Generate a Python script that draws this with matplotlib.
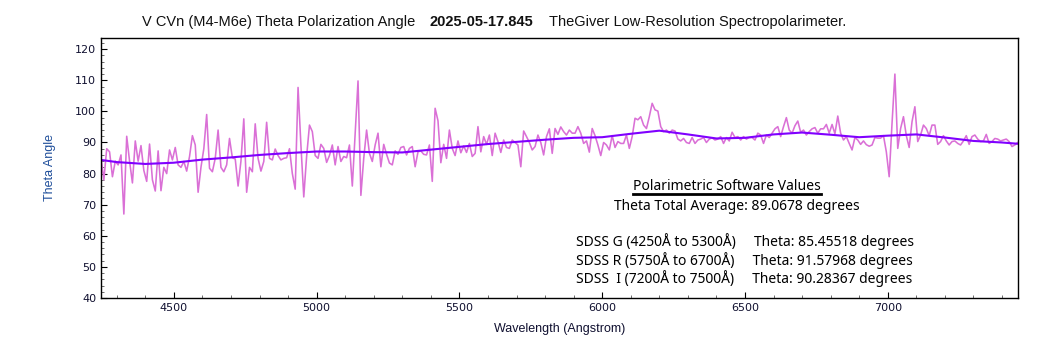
import numpy as np
import matplotlib
matplotlib.use("Agg")
import matplotlib.pyplot as plt
from matplotlib.ticker import MultipleLocator
from matplotlib.lines import Line2D

# ---------------- data ----------------
wl_start = 4245.0
wl_step = 10.0
theta = [
    85, 78, 88, 87, 79, 84, 82.8, 86, 67, 92,
    84, 77, 90.5, 84, 89, 81, 77.5, 89.5, 78, 74.4,
    87.3, 74.5, 82, 80, 87.6, 84.4, 88.4, 82.8, 82, 83.9,
    80.8, 85.5, 92.2, 89.2, 74, 82, 88, 99, 81.7, 80.6,
    84.9, 94, 82, 80.6, 82.8, 91.3, 85.1, 84.7, 76, 84,
    97.6, 74, 82, 80.6, 96, 84.9, 80.8, 83.9, 96.5, 84.9,
    84.4, 87.9, 85.8, 84.4, 84.9, 85.1, 88, 80, 75, 107.7,
    89.2, 72.5, 85.5, 95.6, 93.5, 85.8, 84.9, 89.4, 88.1, 83.6,
    85.8, 89.2, 82.8, 88.7, 83.9, 85.5, 85.1, 89.2, 76, 93,
    109.8, 73, 84.9, 94, 86.5, 83.9, 89.2, 93, 82.2, 89.4,
    86.2, 83.4, 82.8, 87.3, 86.2, 88.4, 88.7, 86, 88.1, 88.7,
    82.2, 87, 87.3, 86.2, 86, 89.2, 77.5, 101, 97, 83.5,
    89.4, 84.9, 94, 88.1, 85.8, 90.5, 86.7, 88.9, 86.8, 89.7,
    85.5, 86.5, 95.1, 87, 91.9, 89.4, 92.4, 85.8, 93, 90.3,
    86.8, 90.8, 88.4, 88.1, 90.8, 90, 89.2, 82.2, 93.7, 91.9,
    90, 87.6, 88.7, 92.4, 90, 86, 91.9, 94.4, 86.5, 94.5,
    92.6, 95, 93.5, 92.4, 94, 93, 93, 95.1, 93, 89.7,
    90.5, 86.9, 94.5, 92.2, 89.2, 85.8, 90, 89.2, 87.6, 92.2,
    88.4, 90.3, 89.7, 89.7, 92.4, 88.1, 91.9, 97.8, 97.3, 98.3,
    95.6, 94.5, 98.3, 102.6, 100.5, 100.1, 95.1, 93.5, 94, 93,
    94, 93.7, 91.1, 90.5, 91.3, 90, 89.7, 91.6, 89.7, 90.8,
    91.1, 91.6, 90, 91.1, 91.5, 90.8, 91.1, 91.9, 89.7, 91.6,
    90.5, 93.3, 91.6, 91.9, 90.8, 91.9, 91.1, 91.6, 91.6, 90.8,
    93, 92.4, 89.7, 92.4, 91.6, 93, 94.4, 95.1, 91.9, 95.1,
    98, 94, 93, 95.4, 96.9, 93.3, 94, 92.4, 93.5, 94.4,
    94.8, 93, 94.4, 94.4, 95.8, 93, 95.8, 92.8, 98.5, 93,
    90.8, 91.9, 89.7, 87.6, 91.6, 90.8, 89.4, 90.5, 89.3, 88.8,
    89.2, 91.6, 91.4, 91.4, 92.2, 87, 79, 96.2, 112, 88.1,
    94.5, 98.3, 92.2, 88.4, 96.7, 101.5, 90.3, 92.4, 95.6, 94.5,
    92.2, 95.6, 95.6, 89.4, 90.3, 92.2, 90.5, 89.2, 90.3, 90.5,
    89.7, 89.2, 90.5, 92.2, 89.4, 91.9, 92.4, 91.1, 90.3, 90.5,
    92.6, 89.7, 90.3, 91.3, 91.1, 90.5, 90.8, 91.1, 90.3, 88.7,
    89.2, 90,
]
wavelength = wl_start + wl_step * np.arange(len(theta))

fit_wl = [4245, 4300, 4400, 4500, 4600, 4700, 4800, 4900, 5000, 5100,
          5200, 5300, 5400, 5500, 5600, 5700, 5800, 5900, 6000, 6100,
          6200, 6300, 6400, 6500, 6600, 6700, 6800, 6900, 7000, 7100,
          7200, 7300, 7400, 7455]
fit_theta = [84.4, 83.7, 83.1, 83.5, 84.5, 85.2, 86.0, 86.6, 87.1, 87.1,
             86.9, 86.8, 87.7, 88.6, 89.5, 90.2, 90.9, 91.5, 91.7, 92.8,
             93.8, 92.6, 91.3, 91.5, 92.6, 93.2, 92.5, 91.7, 92.2, 92.6,
             91.6, 90.5, 90.0, 89.6]

title_main = "V CVn (M4-M6e) Theta Polarization Angle"
title_date = "2025-05-17.845"
title_inst = "TheGiver Low-Resolution Spectropolarimeter."
box_head = "Polarimetric Software Values"
box_total = "Theta Total Average: 89.0678 degrees"
box_lines = [
    "SDSS G (4250\u00c5 to 5300\u00c5)     Theta: 85.45518 degrees",
    "SDSS R (5750\u00c5 to 6700\u00c5)     Theta: 91.57968 degrees",
    "SDSS  I (7200\u00c5 to 7500\u00c5)     Theta: 90.28367 degrees",
]

# ---------------- figure ----------------
fig = plt.figure(figsize=(10.5, 3.5), dpi=100)
ax = fig.add_axes([0.0962, 0.1486, 0.8733, 0.7437])

ax.plot(wavelength, theta, color="#da70d6", lw=1.15)
ax.plot(fit_wl, fit_theta, color="#8000ff", lw=1.5)

ax.set_xlim(4245, 7456)
ax.set_ylim(40, 123.7)
ax.xaxis.set_major_locator(MultipleLocator(500))
ax.xaxis.set_minor_locator(MultipleLocator(100))
ax.yaxis.set_major_locator(MultipleLocator(10))
ax.yaxis.set_minor_locator(MultipleLocator(2))
ax.tick_params(which="both", direction="in", top=False, right=False)
ax.tick_params(which="major", length=4, width=0.8, labelsize=8)
ax.tick_params(which="minor", length=2.5, width=0.6, colors="#555555")
ax.tick_params(axis="both", which="major", colors="black", labelcolor="#101030")
for lab in ax.get_xticklabels() + ax.get_yticklabels():
    lab.set_family("DejaVu Sans")
for s in ax.spines.values():
    s.set_linewidth(1.0)

ax.set_xlabel("Wavelength (Angstrom)", fontsize=9, family="Liberation Sans",
              color="#101030", labelpad=7.5)
ax.set_ylabel("Theta Angle", fontsize=9, family="Liberation Sans",
              color="#1f4e9a", labelpad=13.5)

# title pieces
ty = 1 - 22 / 350
fig.text(142 / 1050, ty, title_main, ha="left", va="center", fontsize=10.5,
         family="Liberation Sans", color="#111111")
fig.text(430 / 1050, ty, title_date, ha="left", va="center", fontsize=10.5,
         family="Liberation Sans", weight="bold", color="#111111")
fig.text(549 / 1050, ty, title_inst, ha="left", va="center", fontsize=10.5,
         family="Liberation Sans", color="#111111")

# annotation block
tf = dict(fontsize=10, family="Noto Sans", color="black", transform=ax.transAxes)
ax.text(0.6827, 0.430, box_head, ha="center", va="center", **tf)
ax.add_line(Line2D([0.580, 0.785], [0.3995, 0.3995], transform=ax.transAxes,
                   color="black", lw=2))
ax.text(0.693, 0.353, box_total, ha="center", va="center", **tf)
for i, line in enumerate(box_lines):
    ax.text(0.518, 0.216 - i * 0.071, line, ha="left", va="center", **tf)

fig.savefig("out.png", dpi=100)
